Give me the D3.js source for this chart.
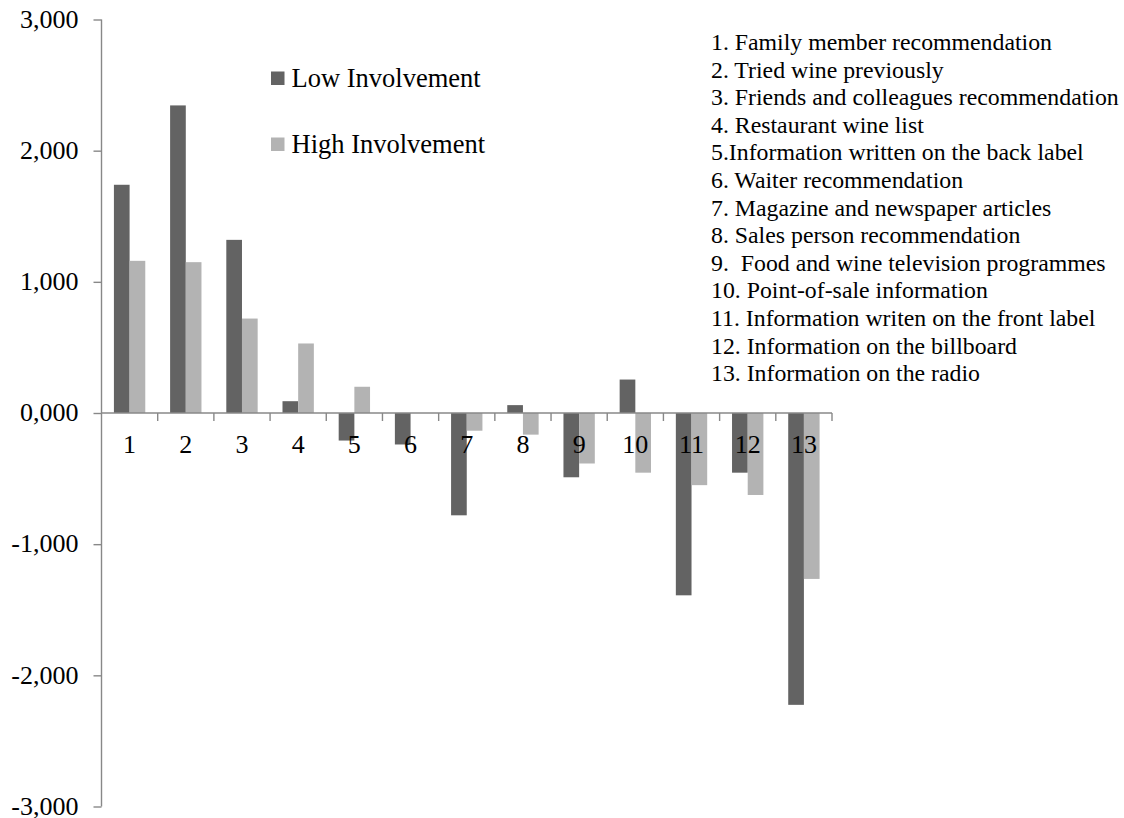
<!DOCTYPE html>
<html>
<head>
<meta charset="utf-8">
<script src="https://cdn.jsdelivr.net/npm/d3@7"></script>
<style>
  html, body { margin: 0; padding: 0; background: #fff; }
  svg { display: block; font-family: "Liberation Serif", "Times New Roman", serif; }
  svg text { font-family: "Liberation Serif", "Times New Roman", serif; fill: #000; }
  .axis path, .axis line { stroke: #888; stroke-width: 1.4px; }
</style>
</head>
<body>
<svg id="chart" width="1124" height="818"></svg>
<script>
"use strict";

const categories = ["1", "2", "3", "4", "5", "6", "7", "8", "9", "10", "11", "12", "13"];
const seriesNames = ["Low Involvement", "High Involvement"];
const lowValues = [1740, 2345, 1320, 90, -210, -240, -780, 60, -490, 255, -1390, -455, -2225];
const highValues = [1160, 1150, 720, 530, 200, 0, -135, -165, -385, -455, -550, -625, -1265];
const yTicks = [-3000, -2000, -1000, 0, 1000, 2000, 3000];
const sourceLabels = [
  "1. Family member recommendation",
  "2. Tried wine previously",
  "3. Friends and colleagues recommendation",
  "4. Restaurant wine list",
  "5.Information written on the back label",
  "6. Waiter recommendation",
  "7. Magazine and newspaper articles",
  "8. Sales person recommendation",
  "9.  Food and wine television programmes",
  "10. Point-of-sale information",
  "11. Information writen on the front label",
  "12. Information on the billboard",
  "13. Information on the radio"
];

const COLORS = { "Low Involvement": "#636363", "High Involvement": "#b3b3b3" };

/* values shown as 1,000 style with a plain hyphen, zero as 0,000 */
const fmt = (d) => (d === 0 ? "0,000" : (d < 0 ? "-" : "") + d3.format(",")(Math.abs(d)));

const svg = d3.select("#chart");

const x = d3.scaleBand().domain(categories).range([101.5, 832]).padding(0);
const x1 = d3.scaleBand().domain(seriesNames)
  .range([x.bandwidth() * 0.221, x.bandwidth() * 0.779]);
const y = d3.scaleLinear().domain([-3000, 3000]).range([806.5, 19.5]);

/* bars */
const rows = categories.map((c, i) => ({ cat: c, vals: [
  { s: seriesNames[0], v: lowValues[i] },
  { s: seriesNames[1], v: highValues[i] }
] }));

svg.append("g")
  .selectAll("g")
  .data(rows)
  .join("g")
  .attr("transform", (d) => `translate(${x(d.cat)},0)`)
  .selectAll("rect")
  .data((d) => d.vals.filter((e) => e.v !== 0))
  .join("rect")
  .attr("x", (d) => x1(d.s))
  .attr("width", x1.bandwidth())
  .attr("y", (d) => y(Math.max(0, d.v)))
  .attr("height", (d) => Math.abs(y(d.v) - y(0)))
  .attr("fill", (d) => COLORS[d.s]);

/* y axis */
const yAxis = svg.append("g")
  .attr("class", "axis")
  .attr("transform", "translate(101.5,0)")
  .call(d3.axisLeft(y).tickValues(yTicks).tickSize(8).tickPadding(15).tickFormat(fmt));
yAxis.attr("font-family", null).attr("font-size", null);
yAxis.select(".domain").attr("d", `M0,${y(3000)}V${y(-3000)}`);
yAxis.selectAll("text")
  .style("font-size", "26px")
  .attr("dy", "0.3em");

/* x axis along zero */
const xAxis = svg.append("g")
  .attr("class", "axis")
  .attr("transform", `translate(0,${y(0)})`);
xAxis.append("line")
  .attr("x1", x.range()[0]).attr("x2", x.range()[1])
  .attr("y1", 0).attr("y2", 0);
xAxis.selectAll("line.tick")
  .data(categories)
  .join("line")
  .attr("class", "tick")
  .attr("x1", (d) => x(d) + x.bandwidth()).attr("x2", (d) => x(d) + x.bandwidth())
  .attr("y1", 0).attr("y2", 8);
xAxis.selectAll("text")
  .data(categories)
  .join("text")
  .attr("x", (d) => x(d) + x.bandwidth() / 2)
  .attr("y", 40)
  .attr("text-anchor", "middle")
  .style("font-size", "26px")
  .text((d) => d);

/* legend */
const legend = svg.append("g");
seriesNames.forEach((s, i) => {
  const g = legend.append("g").attr("transform", `translate(271,${71.5 + i * 66})`);
  g.append("rect").attr("width", 13.5).attr("height", 13.5).attr("fill", COLORS[s]);
  g.append("text").attr("x", 20.5).attr("y", 15.2).style("font-size", "26.5px").text(s);
});

/* list of information sources */
svg.append("g")
  .selectAll("text")
  .data(sourceLabels)
  .join("text")
  .attr("x", 711)
  .attr("y", (d, i) => 50 + i * 27.6)
  .style("font-size", "23.8px")
  .style("white-space", "pre")
  .text((d) => d);
</script>
</body>
</html>
